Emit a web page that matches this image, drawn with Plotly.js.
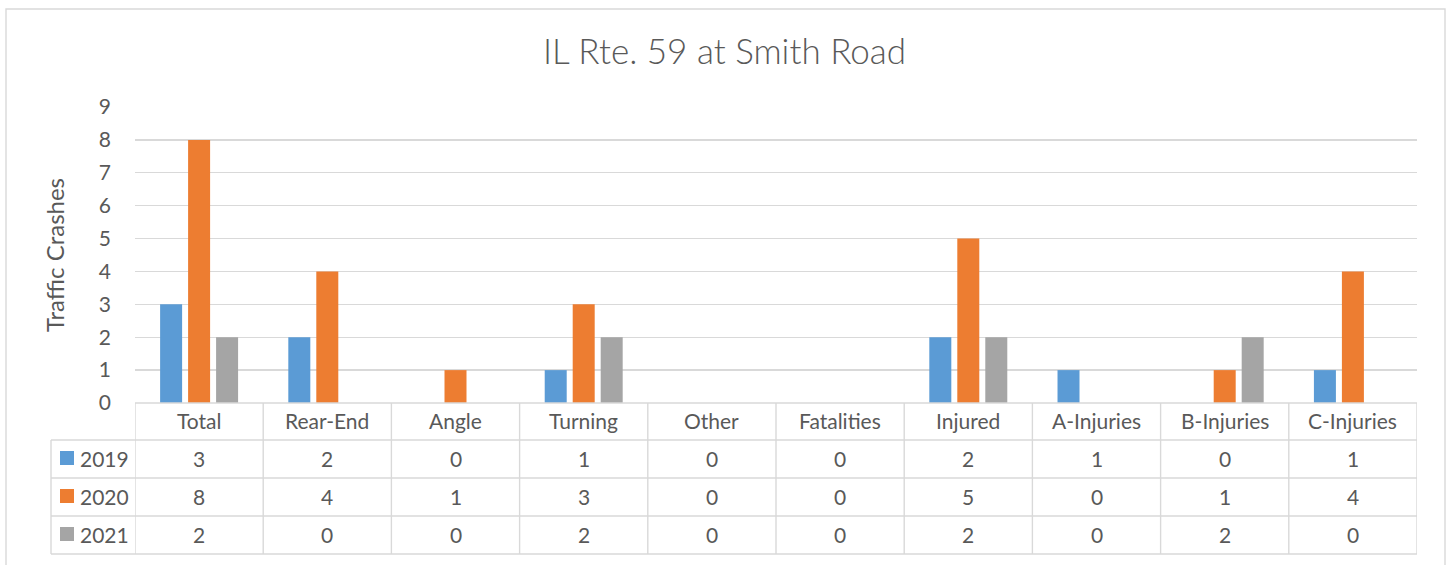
<!DOCTYPE html>
<html>
<head>
<meta charset="utf-8">
<script src="https://cdn.plot.ly/plotly-3.0.1.min.js"></script>
<style>html,body{margin:0;padding:0;background:#fff;}#chart{width:1449px;height:565px;}</style>
</head>
<body>
<div id="chart"></div>
<script>
const categories = ["Total","Rear-End","Angle","Turning","Other","Fatalities","Injured","A-Injuries","B-Injuries","C-Injuries"];
const seriesNames = ["2019","2020","2021"];
const values2019 = [3,2,0,1,0,0,2,1,0,1];
const values2020 = [8,4,1,3,0,0,5,0,1,4];
const values2021 = [2,0,0,2,0,0,2,0,2,0];
const yTicks = [0,1,2,3,4,5,6,7,8,9];
const chartTitle = "IL Rte. 59 at Smith Road";
const yTitle = "Traffic Crashes";

const colors = ["#5b9bd5","#ed7d31","#a5a5a5"];
const allValues = [values2019, values2020, values2021];
const FONT = "Lato, 'Open Sans', sans-serif";
const TXT = "#595959";
const GRID = "#d9d9d9";

const W = 1449, H = 565;
const L = 135, R = 1417, T = 107, B = 403;
const PH = B - T, PW = R - L;
const py = y => (B - y) / PH;   // pixel -> paper y
const px = x => (x - L) / PW;   // pixel -> paper x

const rowEdges = [403, 440, 478, 516, 554];
const tableLeft = 51;

const traces = seriesNames.map((name, i) => ({
  type: "bar",
  name: name,
  x: categories,
  y: allValues[i],
  marker: {color: colors[i], line: {width: 0}},
  hoverinfo: "x+y+name"
}));

const shapes = [];
const annotations = [];
const line = {color: GRID, width: 1.4};

// outer chart border
shapes.push({type:"rect", xref:"paper", yref:"paper", x0:px(6), x1:px(1445), y0:py(9), y1:py(600), line:{color:GRID,width:1.4}, fillcolor:"rgba(0,0,0,0)", layer:"below"});

// table vertical lines at category boundaries
for (let k = 0; k <= categories.length; k++) {
  shapes.push({type:"line", xref:"x", yref:"paper", x0:k-0.5, x1:k-0.5, y0:py(rowEdges[0]), y1:py(rowEdges[4]), line});
}
// left column vertical
shapes.push({type:"line", xref:"paper", yref:"paper", x0:px(tableLeft), x1:px(tableLeft), y0:py(rowEdges[1]), y1:py(rowEdges[4]), line});
// horizontal lines
shapes.push({type:"line", xref:"x", yref:"paper", x0:-0.5, x1:categories.length-0.5, y0:py(rowEdges[0]), y1:py(rowEdges[0]), line});
for (let r = 1; r < rowEdges.length; r++) {
  shapes.push({type:"line", xref:"paper", yref:"paper", x0:px(tableLeft), x1:1, y0:py(rowEdges[r]), y1:py(rowEdges[r]), line});
}

// category header row
categories.forEach((c, k) => {
  annotations.push({xref:"x", yref:"paper", x:k, y:py((rowEdges[0]+rowEdges[1])/2 - 1), text:c, showarrow:false, xanchor:"center", yanchor:"middle", font:{family:FONT, size:21, color:TXT}});
});

// data rows
seriesNames.forEach((name, i) => {
  const yc = py((rowEdges[i+1]+rowEdges[i+2])/2 - 1);
  shapes.push({type:"rect", xref:"paper", yref:"paper", x0:px(60), x1:px(74), y0:yc-7/PH, y1:yc+7/PH, fillcolor:colors[i], line:{width:0}});
  annotations.push({xref:"paper", yref:"paper", x:px(78), y:yc, text:name, showarrow:false, xanchor:"left", yanchor:"middle", font:{family:FONT, size:21, color:TXT}});
  allValues[i].forEach((v, k) => {
    annotations.push({xref:"x", yref:"paper", x:k, y:yc, text:String(v), showarrow:false, xanchor:"center", yanchor:"middle", font:{family:FONT, size:21, color:TXT}});
  });
});

const layout = {
  width: W, height: H,
  margin: {l: L, r: W - R, t: T, b: H - B, pad: 0},
  paper_bgcolor: "#fff", plot_bgcolor: "#fff",
  showlegend: false,
  barmode: "group",
  bargap: 0.345,
  bargroupgap: 0.214,
  title: {text: chartTitle, x: 0.5, xref: "container", xanchor: "center", y: 1 - 52/H, yanchor: "middle", yref: "container", font: {family: FONT, size: 35, weight: 300, color: TXT}},
  xaxis: {type: "category", range: [-0.5, categories.length - 0.5], showticklabels: false, showgrid: false, zeroline: false, showline: false, ticks: "", fixedrange: true},
  yaxis: {range: [0, 9], tickvals: yTicks, ticktext: yTicks.map(String), showgrid: true, gridcolor: GRID, gridwidth: 1.4, zeroline: false, showline: false, ticks: "", ticklabelstandoff: 23,
          tickfont: {family: FONT, size: 21, color: TXT},
          title: {text: yTitle, standoff: 27, font: {family: FONT, size: 24, color: TXT}}, fixedrange: true},
  shapes: shapes,
  annotations: annotations
};

Plotly.newPlot("chart", traces, layout, {displayModeBar: false, staticPlot: true});
</script>
</body>
</html>
